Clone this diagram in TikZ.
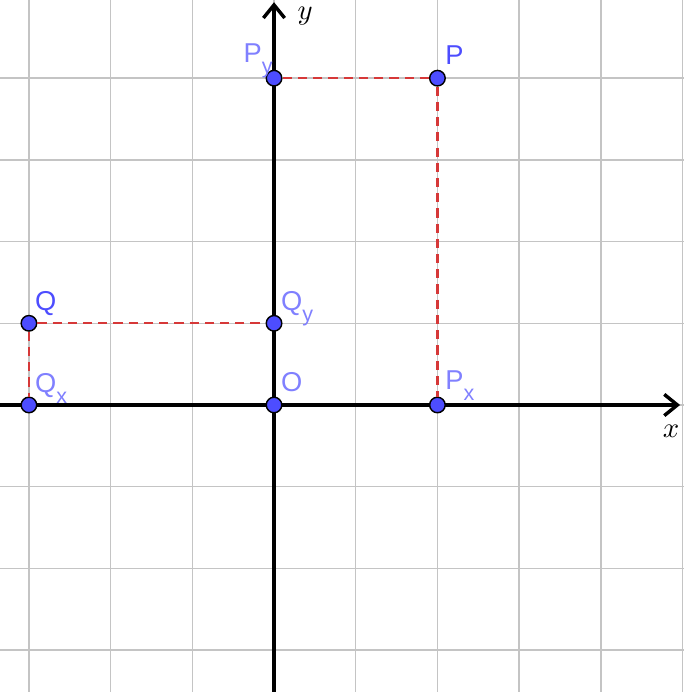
\documentclass[tikz,border=0pt]{standalone}
\usepackage{amsmath}
\usepackage{fontspec}
\setsansfont{Liberation Sans}
\usetikzlibrary{arrows.meta, calc}
\definecolor{gridgray}{RGB}{196, 196, 196}
\definecolor{ptfill}{RGB}{77, 77, 255}
\definecolor{freelbl}{RGB}{77, 77, 255}
\definecolor{deplbl}{RGB}{128, 128, 255}
\definecolor{dashred}{RGB}{214, 56, 56}
\newcommand{\lsub}[1]{\raisebox{-0.75ex}{\fontsize{7.5}{9}\selectfont #1}}

\begin{document}
\begin{tikzpicture}[
        pt/.style={circle, draw=black, fill=ptfill, line width=0.5pt, inner sep=0pt, minimum size=0.19cm},
        lbl/.style={font=\sffamily\fontsize{9.5}{11}\selectfont, inner sep=0pt},
        proj/.style={dashred, line width=0.8pt, dash pattern=on 3.2pt off 2.1pt}
    ]
        \useasboundingbox (-3.354,-3.513) rectangle (5.018,4.957);
        \draw[gridgray, line width=0.5pt] (-3.354,-3.513) grid (5.018,4.957);

        % axes
        \coordinate (xstart) at (-3.354,0);
        \coordinate (xend)   at (4.97,0);
        \coordinate (ystart) at (0,-3.513);
        \coordinate (yend)   at (0,4.93);
        \draw[line width=1.2pt, -{Straight Barb[length=1.6mm, width=2.6mm]}] (xstart) -- (xend);
        \draw[line width=1.2pt, -{Straight Barb[length=1.6mm, width=2.6mm]}] (ystart) -- (yend);
        \node[inner sep=0pt] (xlbl) at (4.86,-0.32) {$x$};
        \node[inner sep=0pt] (ylbl) at (0.38,4.76) {$y$};

        % points
        \node[pt] (O)  at (0,0) {};
        \node[pt] (P)  at (2,4) {};
        \node[pt] (Px) at (2,0) {};
        \node[pt] (Py) at (0,4) {};
        \node[pt] (Q)  at (-3,1) {};
        \node[pt] (Qx) at (-3,0) {};
        \node[pt] (Qy) at (0,1) {};

        \draw[proj] (P) -- (Px);
        \draw[proj] (P) -- (Py);
        \draw[proj] (Q) -- (Qx);
        \draw[proj] (Q) -- (Qy);

        % labels
        \node[lbl, freelbl, anchor=base west] (Plbl)  at ($(P)+(0.09,0.17)$) {P};
        \node[lbl, freelbl, anchor=base west] (Qlbl)  at ($(Q)+(0.07,0.16)$) {Q};
        \node[lbl, deplbl, anchor=base west]  (Olbl)  at ($(O)+(0.08,0.17)$) {O};
        \node[lbl, deplbl, anchor=base west]  (Pxlbl) at ($(Px)+(0.09,0.19)$) {P\lsub{x}};
        \node[lbl, deplbl, anchor=base west]  (Qxlbl) at ($(Qx)+(0.07,0.15)$) {Q\lsub{x}};
        \node[lbl, deplbl, anchor=base west]  (Qylbl) at ($(Qy)+(0.08,0.16)$) {Q\lsub{y}};
        \node[lbl, deplbl, anchor=base east]  (Pylbl) at ($(Py)+(-0.01,0.19)$) {P\lsub{y}};
    \end{tikzpicture}
\end{document}
